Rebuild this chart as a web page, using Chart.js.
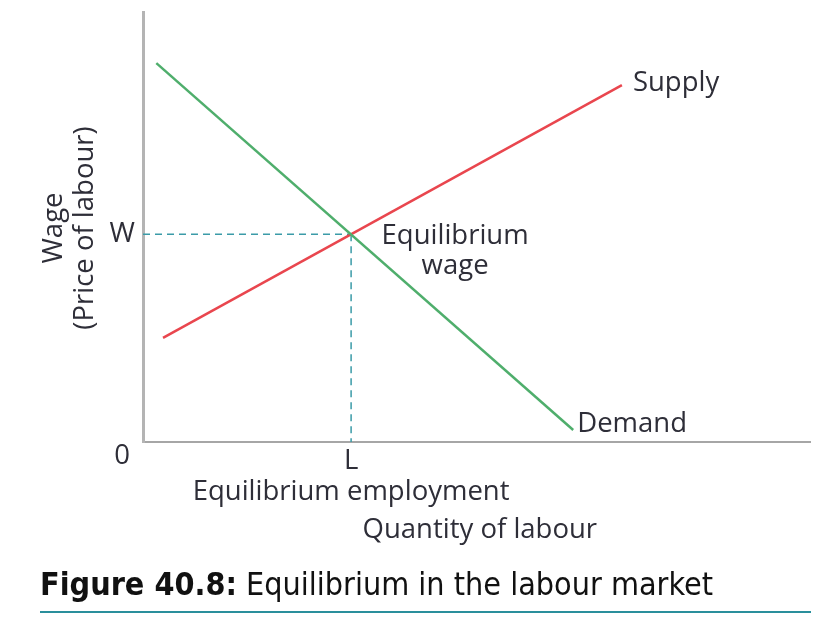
<!DOCTYPE html>
<html>
<head>
<meta charset="utf-8">
<script src="https://cdn.jsdelivr.net/npm/chart.js@4.4.1/dist/chart.umd.min.js"></script>
<style>
  body { margin: 0; background: #fff; }
  #wrap { position: absolute; left: 0; top: 0; width: 839px; height: 621px; }
  #caption {
    position: absolute; left: 40px; top: 566px;
    font-family: "DejaVu Sans Condensed", "DejaVu Sans", sans-serif;
    font-size: 32px; line-height: 36px; color: #111; white-space: nowrap;
  }
  #rule { position: absolute; left: 40px; top: 611px; width: 771px; height: 2px; background: #2a8f9c; }
</style>
</head>
<body>
<div id="wrap"><canvas id="labourChart"></canvas></div>
<div id="caption"><b>Figure 40.8:</b> Equilibrium in the labour market</div>
<div id="rule"></div>
<script>
// curve end points (quantity, wage) on a 0-100 scale
const demandPoints = [[2, 88.1], [64.5, 2.8]];
const supplyPoints = [[3, 24.2], [71.8, 83]];
const equilibrium = [31.2, 48.3];
const curveNames = ['Supply', 'Demand'];
const yTickLabels = ['W', '0'];
const xTickLabels = ['L'];

const toXY = pts => pts.map(p => ({ x: p[0], y: p[1] }));

const textPlugin = {
  id: 'diagramText',
  afterDatasetsDraw(chart) {
    const { ctx, scales: { x, y } } = chart;
    const ex = x.getPixelForValue(equilibrium[0]);
    const ey = y.getPixelForValue(equilibrium[1]);
    ctx.save();
    ctx.fillStyle = '#2e2e38';
    ctx.font = '27.5px "Open Sans"';
    ctx.textBaseline = 'middle';

    // axis tick-like labels
    ctx.textAlign = 'right';
    ctx.fillText(yTickLabels[0], x.left - 8, ey);
    ctx.textAlign = 'center';
    ctx.fillText(yTickLabels[1], x.left - 21, y.bottom + 14);
    ctx.fillText(xTickLabels[0], ex, y.bottom + 19);
    ctx.fillText('Equilibrium employment', ex, y.bottom + 50);
    ctx.fillText('Quantity of labour', x.getPixelForValue(50.5), y.bottom + 88);

    // equilibrium label
    ctx.fillText('Equilibrium', ex + 104, ey + 2);
    ctx.fillText('wage', ex + 104, ey + 32);

    // curve names
    ctx.textAlign = 'left';
    const s = supplyPoints[1], d = demandPoints[1];
    ctx.fillText(curveNames[0], x.getPixelForValue(s[0]) + 11, y.getPixelForValue(s[1]) - 2);
    ctx.fillText(curveNames[1], x.getPixelForValue(d[0]) + 4, y.getPixelForValue(d[1]) - 6);

    // y axis title
    ctx.translate(54, (y.top + y.bottom) / 2 + 1);
    ctx.rotate(-Math.PI / 2);
    ctx.textAlign = 'center';
    ctx.fillText('Wage', 0, 0);
    ctx.fillText('(Price of labour)', 0, 31);
    ctx.restore();
  }
};

new Chart(document.getElementById('labourChart'), {
  type: 'scatter',
  data: {
    datasets: [
      {
        label: 'Demand',
        data: toXY(demandPoints),
        showLine: true,
        borderColor: '#4fae6c',
        borderWidth: 2.5,
        pointRadius: 0
      },
      {
        label: 'Supply',
        data: toXY(supplyPoints),
        showLine: true,
        borderColor: '#e9464e',
        borderWidth: 2.5,
        pointRadius: 0
      },
      {
        label: 'W line',
        data: toXY([[0, equilibrium[1]], equilibrium]),
        showLine: true,
        borderColor: '#3b9ba8',
        borderWidth: 1.5,
        borderDash: [7, 5],
        pointRadius: 0
      },
      {
        label: 'L line',
        data: toXY([equilibrium, [equilibrium[0], 0]]),
        showLine: true,
        borderColor: '#3b9ba8',
        borderWidth: 1.5,
        borderDash: [7, 5],
        pointRadius: 0
      }
    ]
  },
  options: {
    responsive: true,
    maintainAspectRatio: false,
    animation: false,
    layout: { padding: { left: 143, top: 12, right: 29, bottom: 179 } },
    plugins: { legend: { display: false }, tooltip: { enabled: false } },
    scales: {
      x: {
        type: 'linear', min: 0, max: 100,
        grid: { display: false, drawTicks: false, tickLength: 0 },
        ticks: { display: false },
        border: { color: '#a6a6a6', width: 2 }
      },
      y: {
        type: 'linear', min: 0, max: 100,
        grid: { display: false, drawTicks: false, tickLength: 0 },
        ticks: { display: false },
        border: { color: '#b4b4b4', width: 3 }
      }
    }
  },
  plugins: [textPlugin]
});
</script>
</body>
</html>
